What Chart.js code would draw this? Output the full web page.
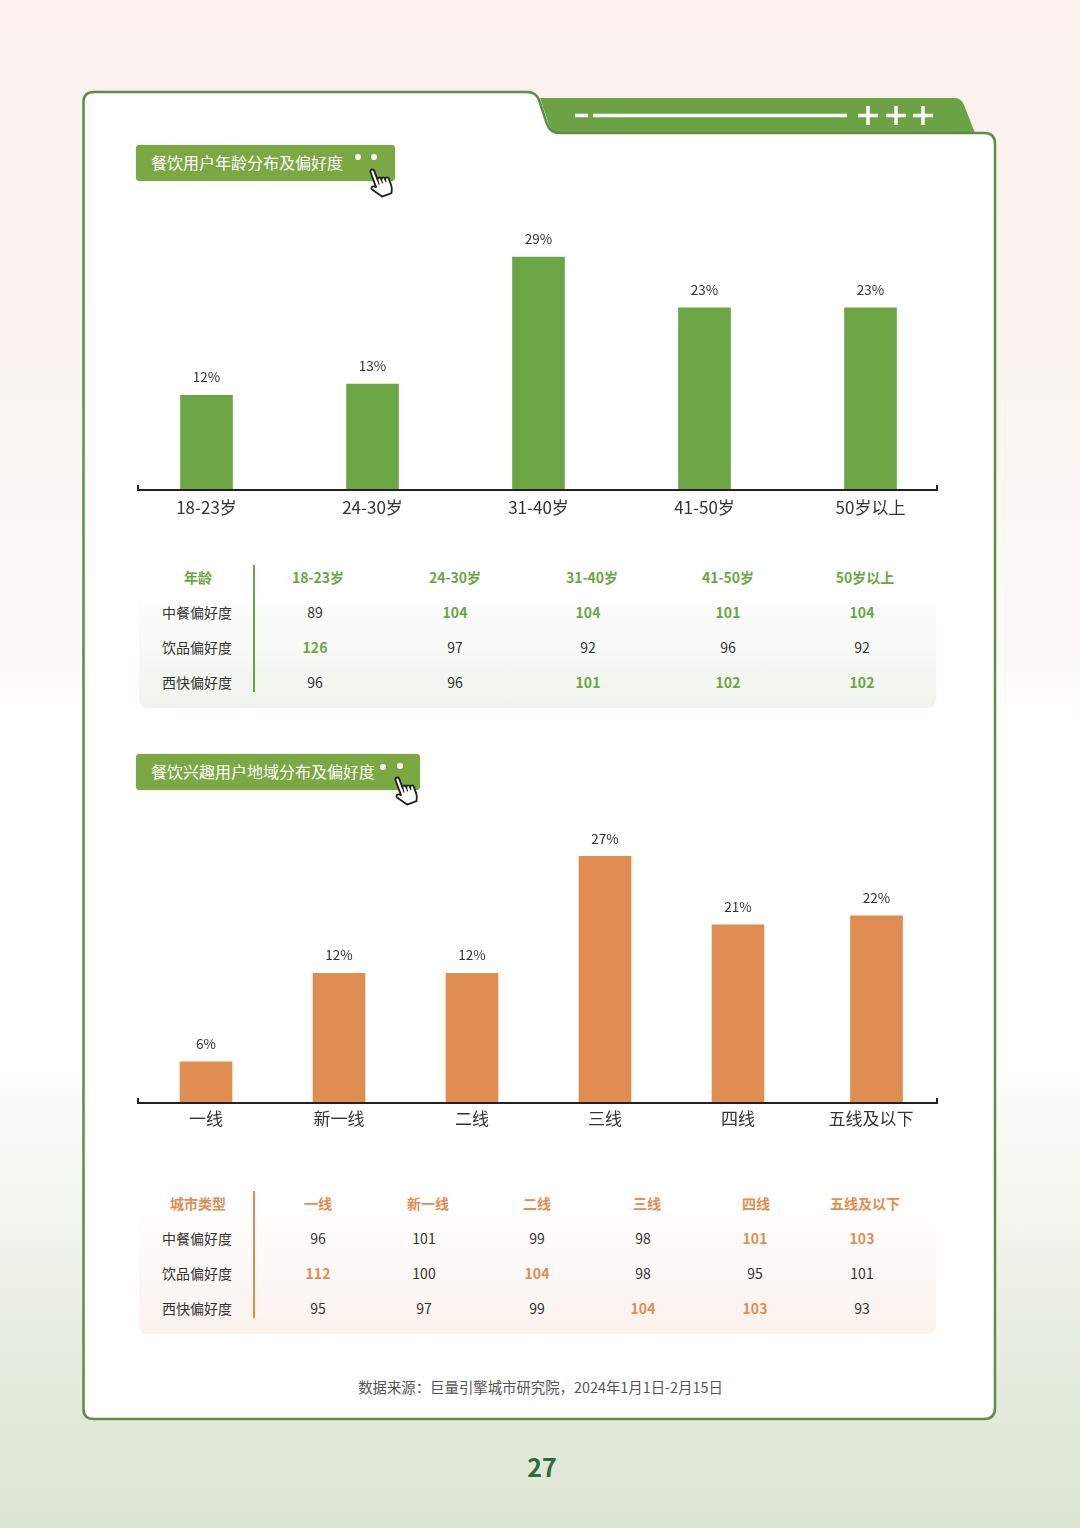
<!DOCTYPE html>
<html lang="zh">
<head>
<meta charset="utf-8">
<title>餐饮用户分布及偏好度</title>
<script src="https://cdn.jsdelivr.net/npm/chart.js@4"></script>
<style>
    * { margin: 0; padding: 0; box-sizing: border-box; }
    html, body { width: 1080px; height: 1528px; overflow: hidden; }
    body {
        position: relative;
        font-family: "Noto Sans CJK SC", "Noto Sans", sans-serif;
        background: linear-gradient(180deg, #fbf0ed 0%, #f9f2ee 15%, #fbf5f2 28%, #fef9f8 42%, #ffffff 48%, #ffffff 69%, #f8f9f4 75%, #eaf0e6 85%, #dfe8d6 95%, #dce7d3 100%);
    }
    #frame { position: absolute; left: 0; top: 0; }
    .chart-box { position: absolute; left: 100px; width: 880px; }
    .badge {
        position: absolute; left: 136px; height: 36px; border-radius: 4px;
        background: #7ba843; color: #fff; font-size: 16px; line-height: 34px;
        padding-left: 15px; box-shadow: 0 0 1px #6b9a3c;
    }
    .panel { position: absolute; left: 139px; width: 797px; height: 142px; border-radius: 8px; }
    .vline { position: absolute; left: 253px; width: 2px; height: 127px; }
    .cell {
        position: absolute; transform: translate(-50%, -50%); white-space: nowrap;
        font-size: 14px; line-height: 18px; color: #333;
    }
    .cell.strong { font-weight: 700; }
    #source { position: absolute; left: 0; width: 1081px; top: 1378px; text-align: center; font-size: 14.4px; line-height: 18px; color: #555; }
    #pageNo { position: absolute; left: 502px; width: 80px; top: 1448px; text-align: center; font-size: 25px; line-height: 36px; font-weight: 700; color: #2f6b3c; }
</style>
</head>
<body>
<svg id="frame" width="1080" height="1528" viewBox="0 0 1080 1528">
    <defs>
        <g id="hand">
            <path d="M5 2a1.6 1.6 0 0 1 3.2 0V10a1.500 1.500 0 0 1 3 0v1a1.500 1.500 0 0 1 3 0v1a1.500 1.500 0 0 1 3 0V18c0 3-1 4-2 6H7L1.500 16c-1.300-2 1-3.500 3.500-1Z" fill="#fff" stroke="#222" stroke-width="1.500" stroke-linejoin="round"/>
            <path d="M8.200 10v4M11.200 11v3M14.200 12v2" stroke="#222" stroke-width="1" fill="none"/>
        </g>
    </defs>
    <path d="M540 98H955Q961 98 964 105L975 133H560Q552 133 549 125L540 98Z" fill="#6ba245"/>
    <path d="M83.500 102Q83.500 92 94 92H527Q536 92 539 100L547 124Q550 133 560 133H984Q995 133 995 144V1408Q995 1419 984 1419H94Q83.500 1419 83.500 1409Z" fill="#fff" stroke="#5f8d46" stroke-width="2.500"/>
    <path d="M575 115.500H588M593 115.500H847M858 115.500H878M886 115.500H906M913 115.500H933M868 106V125M896 106V125M923 106V125" stroke="#fff" stroke-width="3.500" fill="none"/>
</svg>

<div class="badge" style="top:145px;width:259px">餐饮用户年龄分布及偏好度</div>
<div class="badge" style="top:754px;width:284px">餐饮兴趣用户地域分布及偏好度</div>
<svg style="position:absolute;left:0;top:0;pointer-events:none" width="1080" height="1528">
    <circle cx="358" cy="157" r="3" fill="#fff"/><circle cx="374" cy="157" r="3" fill="#fff"/>
    <circle cx="383" cy="767" r="3" fill="#fff"/><circle cx="400" cy="766" r="3" fill="#fff"/>
    <use href="#hand" transform="translate(364 172) rotate(-20) scale(1.220)"/>
    <use href="#hand" transform="translate(389 780) rotate(-20) scale(1.220)"/>
</svg>

<div class="chart-box" style="top:225px;height:300px"><canvas id="ageChart"></canvas></div>
<div class="chart-box" style="top:829px;height:309px"><canvas id="regionChart"></canvas></div>

<div class="panel" style="top:566px;background:linear-gradient(180deg,#ffffff 0%,#ffffff 14%,#eef4ec 100%)"></div>
<div class="vline" style="top:565px;background:#6ba245"></div>
<div class="panel" style="top:1192px;background:linear-gradient(180deg,#ffffff 0%,#ffffff 10%,#fbf2ec 100%)"></div>
<div class="vline" style="top:1191px;background:#d98c55"></div>
<div id="tableCells"></div>

<div id="source">数据来源：巨量引擎城市研究院，2024年1月1日-2月15日</div>
<div id="pageNo">27</div>

<script>
// 年龄
const ageLabels = ['18-23岁', '24-30岁', '31-40岁', '41-50岁', '50岁以上'];
const ageShare = [12, 13, 29, 23, 23];           // printed labels
const ageBars = [11.8, 13.2, 29, 22.7, 22.7];    // bar lengths

// 城市 - bars in the source are not to scale with their printed labels, kept as drawn
const cityLabels = ['一线', '新一线', '二线', '三线', '四线', '五线及以下'];
const cityShare = [6, 12, 12, 27, 21, 22];
const cityBars = [4.5, 14.2, 14.2, 27, 19.5, 20.5];

const rowLabels = ['中餐偏好度', '饮品偏好度', '西快偏好度'];
const ageChinese = [89, 104, 104, 101, 104];
const ageDrinks = [126, 97, 92, 96, 92];
const ageFastFood = [96, 96, 101, 102, 102];
const cityChinese = [96, 101, 99, 98, 101, 103];
const cityDrinks = [112, 100, 104, 98, 95, 101];
const cityFastFood = [95, 97, 99, 104, 103, 93];

// highlighted cells, [row, col]
const ageStrong = [[0,1],[0,2],[0,3],[0,4],[1,0],[2,2],[2,3],[2,4]];
const cityStrong = [[0,4],[0,5],[1,0],[1,2],[2,3],[2,4]];

const GREEN = '#6ca644';
const ORANGE = '#e08d52';

const barPlugin = {
    id: 'barExtras',
    afterDatasetsUpdate(chart, args, opts) {
        // last bar of the city chart sits a little off the even spacing
        if (opts.lastShift) {
            const pts = chart.getDatasetMeta(0).data;
            pts[pts.length - 1].x += opts.lastShift;
        }
    },
    afterDatasetsDraw(chart, args, opts) {
        const { ctx, chartArea } = chart;
        const base = chartArea.bottom;

        // baseline with small end ticks
        ctx.save();
        ctx.strokeStyle = '#222';
        ctx.lineWidth = 2;
        ctx.beginPath();
        ctx.moveTo(opts.axisFrom, base - 5);
        ctx.lineTo(opts.axisFrom, base);
        ctx.lineTo(opts.axisTo, base);
        ctx.lineTo(opts.axisTo, base - 5);
        ctx.stroke();

        // value labels
        ctx.fillStyle = '#333';
        ctx.font = '13.5px "Noto Sans CJK SC"';
        ctx.textAlign = 'center';
        ctx.textBaseline = 'middle';
        chart.getDatasetMeta(0).data.forEach((bar, i) => {
            ctx.fillText(opts.printed[i] + '%', bar.x, bar.y - 18);
        });
        ctx.restore();
    }
};

function drawBars(id, labels, bars, printed, color, yMax, padLeft, padRight, tickPad, lastShift) {
    return new Chart(document.getElementById(id), {
        type: 'bar',
        data: {
            labels: labels,
            datasets: [{ data: bars, backgroundColor: color, barThickness: 52 }]
        },
        options: {
            responsive: true,
            maintainAspectRatio: false,
            animation: false,
            layout: { padding: { left: padLeft, right: padRight, top: 0, bottom: 0 } },
            plugins: {
                legend: { display: false },
                tooltip: { enabled: false },
                barExtras: { printed, axisFrom: 38, axisTo: 837, lastShift }
            },
            scales: {
                x: {
                    grid: { display: false, drawTicks: false },
                    border: { display: false },
                    afterFit: (scale) => { scale.height = 35; },
                    ticks: {
                        color: '#333',
                        font: { family: 'Noto Sans CJK SC', size: 17 },
                        padding: tickPad,
                        maxRotation: 0,
                        autoSkip: false
                    }
                },
                y: { display: false, min: 0, max: yMax }
            }
        },
        plugins: [barPlugin]
    });
}

drawBars('ageChart', ageLabels, ageBars, ageShare, GREEN, 33, 23.5, 26.5, 7, 0);
drawBars('regionChart', cityLabels, cityBars, cityShare, ORANGE, 30, 39.5, 42.5, 5, 5.5);

// tables
function addCell(x, y, text, color, strong) {
    const el = document.createElement('div');
    el.className = 'cell' + (strong ? ' strong' : '');
    el.style.left = x + 'px';
    el.style.top = y + 'px';
    el.style.color = color;
    el.textContent = text;
    document.getElementById('tableCells').appendChild(el);
}

function drawTable(corner, headers, rows, strong, color, headX, valX, headY, rowY) {
    addCell(198, headY, corner, color, true);
    headers.forEach((h, c) => addCell(headX[c], headY, h, color, true));
    rows.forEach((row, r) => {
        addCell(197, rowY[r], rowLabels[r], '#333', false);
        row.forEach((v, c) => {
            const hi = strong.some(s => s[0] === r && s[1] === c);
            addCell(valX[c], rowY[r], v, hi ? color : '#333', hi);
        });
    });
}

drawTable('年龄', ageLabels, [ageChinese, ageDrinks, ageFastFood], ageStrong, GREEN,
    [318, 455, 592, 728, 865], [315, 455, 588, 728, 862], 577, [611.5, 647, 682]);
drawTable('城市类型', cityLabels, [cityChinese, cityDrinks, cityFastFood], cityStrong, ORANGE,
    [318, 428, 537, 647, 756, 865], [318, 424, 537, 643, 755, 862], 1203, [1238, 1273, 1308]);
</script>
</body>
</html>
